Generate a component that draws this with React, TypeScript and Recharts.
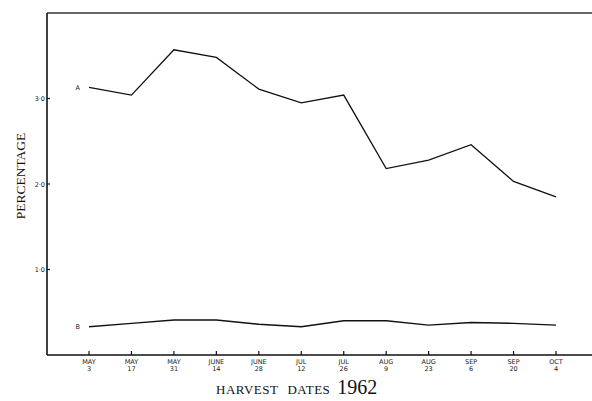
import { LineChart, Line, XAxis, YAxis, ReferenceLine } from "recharts";

const months = ["MAY", "MAY", "MAY", "JUNE", "JUNE", "JUL", "JUL", "AUG", "AUG", "SEP", "SEP", "OCT"];
const days = ["3", "17", "31", "14", "28", "12", "26", "9", "23", "6", "20", "4"];
const seriesA = [3.13, 3.04, 3.57, 3.48, 3.11, 2.95, 3.04, 2.18, 2.28, 2.46, 2.03, 1.85];
const seriesB = [0.33, 0.37, 0.41, 0.41, 0.36, 0.33, 0.4, 0.4, 0.35, 0.38, 0.37, 0.35];
const yTicks = [1, 2, 3];

const data = months.map((m, i) => ({ date: `${m} ${days[i]}`, A: seriesA[i], B: seriesB[i] }));

const tickFont = "'DejaVu Sans', sans-serif";
const serif = "'Liberation Serif', serif";

function XTick({ x, y, index }: any) {
  return (
    <g>
      <line x1={x} x2={x} y1={y} y2={y - 4} stroke="#111" strokeWidth={1.2} />
      <text x={x} y={y + 9} textAnchor="middle" fontSize={6.5} fontFamily={tickFont} fill="#222">
        {months[index]}
      </text>
      <text x={x} y={y + 16} textAnchor="middle" fontSize={6.5} fontFamily={tickFont} fill="#222">
        {days[index]}
      </text>
    </g>
  );
}

function YTick({ x, y, payload }: any) {
  return (
    <g>
      <line x1={x} x2={x + 3} y1={y} y2={y} stroke="#111" strokeWidth={1.2} />
      <text x={x - 2} y={y + 2.5} textAnchor="end" fontSize={6.5} fontFamily={tickFont} fill="#222">
        {payload.value.toFixed(1).replace(".", "·")}
      </text>
    </g>
  );
}

const seriesLabel = (name: string) => (props: any) => {
  if (props.index !== 0) return null;
  return (
    <text x={props.x - 9} y={props.y + 2.5} textAnchor="end" fontSize={6.5} fontFamily={tickFont} fill="#222">
      {name}
    </text>
  );
};

export default function App() {
  return (
    <div style={{ position: "absolute", left: 0, top: 0, width: 592, height: 401, background: "#fff" }}>
      <LineChart width={592} height={401} data={data} margin={{ top: 13, right: 0, left: 0, bottom: 0 }}>
        <XAxis
          dataKey="date"
          height={46}
          padding={{ left: 42, right: 36 }}
          axisLine={{ stroke: "#111", strokeWidth: 1.6 }}
          tickLine={false}
          tickSize={0}
          tickMargin={0}
          interval={0}
          tick={<XTick />}
          label={{
            content: () => (
              <text x={216} y={394} textAnchor="start" fontFamily={serif} fill="#111" fontSize={13} letterSpacing={0.5}>
                HARVEST
                <tspan dx={9}>DATES</tspan>
                <tspan dx={7} fontSize={20} letterSpacing={0}>1962</tspan>
              </text>
            ),
          }}
        />
        <YAxis
          domain={[0, 4]}
          ticks={yTicks}
          width={47}
          axisLine={{ stroke: "#111", strokeWidth: 1.6 }}
          tickLine={false}
          tickSize={0}
          tickMargin={0}
          tick={<YTick />}
          label={{
            content: () => (
              <text
                x={25}
                y={176}
                textAnchor="middle"
                fontSize={13.5}
                fontFamily={serif}
                fill="#111"
                transform="rotate(-90 25 176)"
              >
                PERCENTAGE
              </text>
            ),
          }}
        />
        <ReferenceLine y={4} stroke="#333" strokeWidth={1.4} />
        <Line
          dataKey="A"
          stroke="#111"
          strokeWidth={1.3}
          dot={false}
          isAnimationActive={false}
          label={seriesLabel("A")}
        />
        <Line
          dataKey="B"
          stroke="#111"
          strokeWidth={1.4}
          dot={false}
          isAnimationActive={false}
          label={seriesLabel("B")}
        />
      </LineChart>
    </div>
  );
}
